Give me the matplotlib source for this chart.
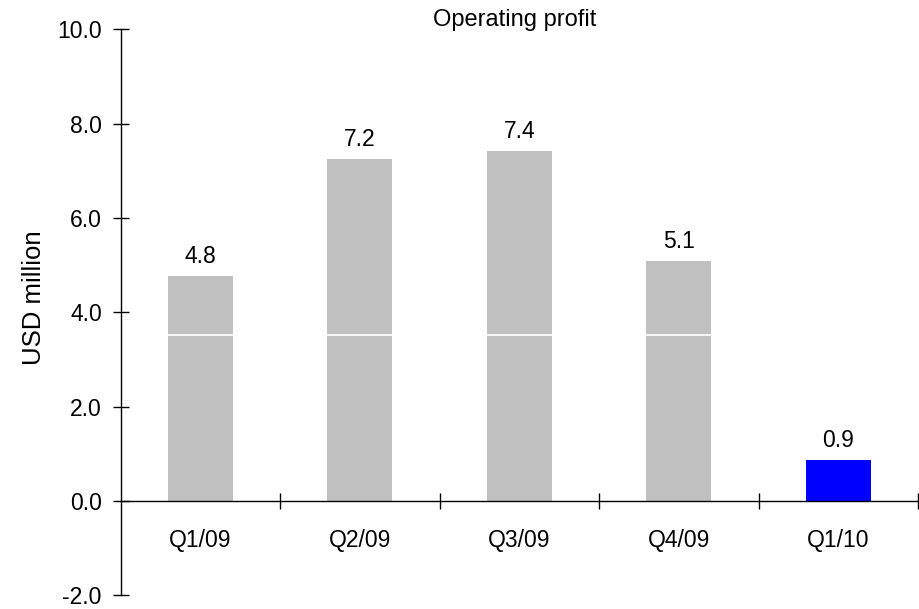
import numpy as np
import matplotlib
matplotlib.use("Agg")
import matplotlib.pyplot as plt

# -----------------------------
# Data
# -----------------------------
quarters = ["Q1/09", "Q2/09", "Q3/09", "Q4/09", "Q1/10"]
profit = [4.77, 7.24, 7.41, 5.08, 0.87]
bar_colors = ["#C0C0C0", "#C0C0C0", "#C0C0C0", "#C0C0C0", "#0000FF"]
split_level = 3.52  # thin white line across the grey bars

plt.rcParams["font.family"] = ["Liberation Sans", "DejaVu Sans"]
fs = 16.5

fig = plt.figure(figsize=(9.19, 6.09), dpi=100)
ax = fig.add_axes([0.1312, 0.0225, 0.8677, 0.9294])

x = np.arange(len(quarters))
width = 0.41
ax.bar(x, profit, width=width, color=bar_colors, zorder=2)

# white split line on the grey bars
grey = [i for i, c in enumerate(bar_colors) if c == "#C0C0C0"]
ax.hlines([split_level] * len(grey), x[grey] - width / 2, x[grey] + width / 2,
          color="white", lw=1.2, zorder=3)

# value labels
for xi, v in zip(x, profit):
    ax.annotate(f"{v:.1f}", (xi, v), xytext=(0, 6), textcoords="offset points",
                ha="center", va="bottom", fontsize=fs)

# -----------------------------
# Axes styling
# -----------------------------
ax.set_xlim(-0.5, len(quarters) - 0.5)
ax.set_ylim(-2, 10)

ax.spines["top"].set_visible(False)
ax.spines["right"].set_visible(False)
ax.spines["bottom"].set_position(("data", 0))
for s in ("left", "bottom"):
    ax.spines[s].set_linewidth(1.0)
    ax.spines[s].set_zorder(4)

ax.set_yticks(np.arange(-2, 10.1, 2))
ax.set_yticklabels([f"{t:.1f}" for t in np.arange(-2, 10.1, 2)], fontsize=fs)
ax.tick_params(axis="y", direction="inout", length=11, width=1, pad=8)

ax.set_xticks(x)
ax.set_xticklabels(quarters, fontsize=fs)
ax.set_xticks(np.arange(0.5, len(quarters), 1), minor=True)
ax.tick_params(axis="x", which="major", length=0, pad=20)
ax.tick_params(axis="x", which="minor", direction="inout", length=11.5, width=1)

ax.set_ylabel("USD million", fontsize=18.5)
ax.yaxis.set_label_coords(-0.0936, 0.525)

fig.text(515 / 919, 1 - 20 / 609, "Operating profit", ha="center", va="center",
         fontsize=17)

fig.savefig("out.png", dpi=100)
